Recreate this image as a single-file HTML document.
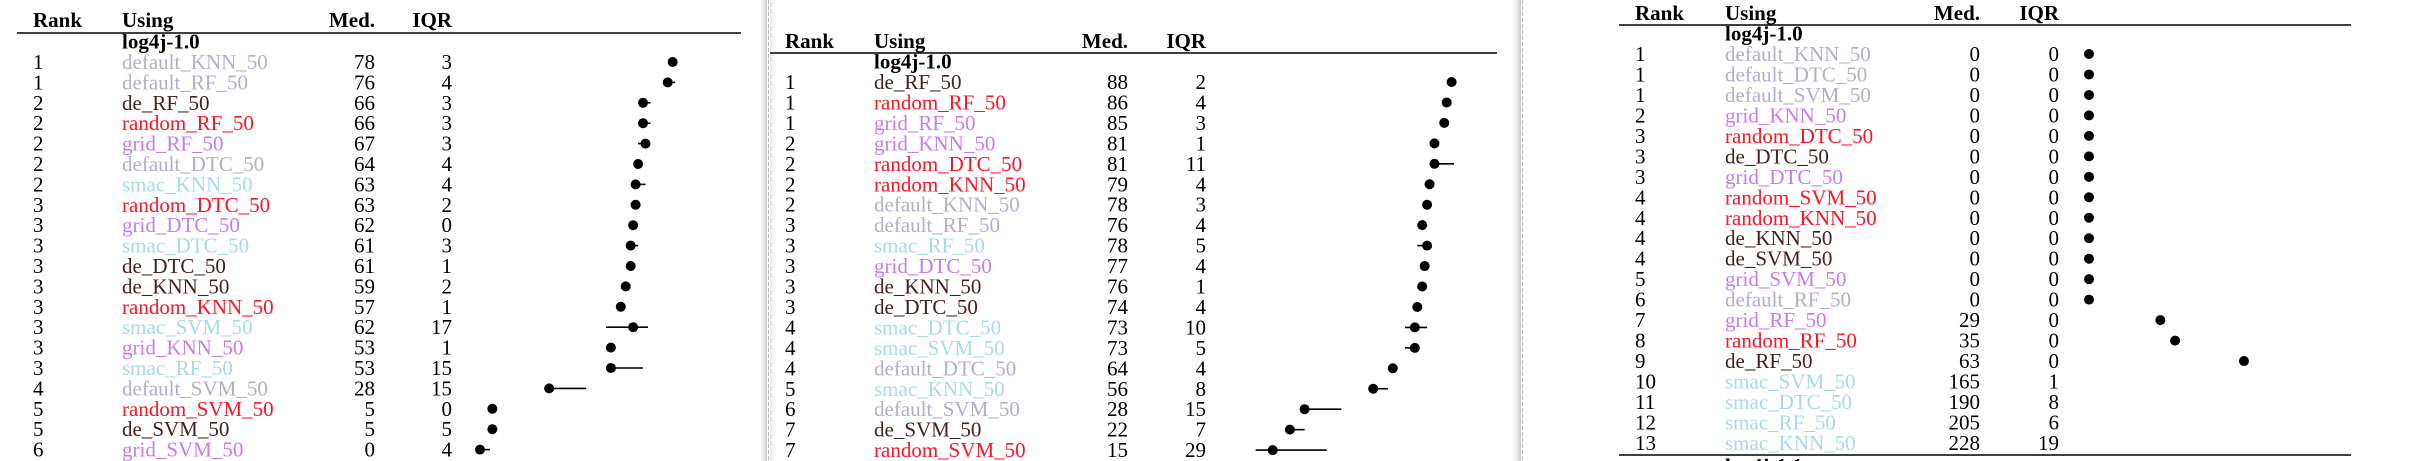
<!DOCTYPE html>
<html><head><meta charset="utf-8">
<style>
html,body{margin:0;padding:0;background:#fff;}
svg{display:block;}
text{font-family:"Liberation Serif",serif;font-size:21px;}
.b{font-weight:bold;}
</style></head>
<body>
<svg id="c" width="2417" height="461" viewBox="0 0 2417 461" xmlns="http://www.w3.org/2000/svg">
<defs>
<linearGradient id="sh" x1="0" x2="1" y1="0" y2="0">
<stop offset="0" stop-color="#fff" stop-opacity="0"/>
<stop offset="1" stop-color="#c8c8c8"/>
</linearGradient>
<linearGradient id="sh2" x1="0" x2="1" y1="0" y2="0">
<stop offset="0" stop-color="#e6e6e6"/>
<stop offset="1" stop-color="#fff" stop-opacity="0"/>
</linearGradient>
</defs>
<rect x="758" y="0" width="9" height="461" fill="url(#sh)"/>
<line x1="768.5" y1="0" x2="768.5" y2="461" stroke="#bbb" stroke-width="1" stroke-dasharray="4,2"/>
<rect x="770" y="0" width="8" height="461" fill="url(#sh2)"/>
<rect x="1510" y="0" width="11" height="461" fill="url(#sh)"/>
<line x1="1522.5" y1="0" x2="1522.5" y2="461" stroke="#bbb" stroke-width="1" stroke-dasharray="4,2"/>
</svg>
<script>
// Panel 1 data
const p1Names=["default_KNN_50","default_RF_50","de_RF_50","random_RF_50","grid_RF_50","default_DTC_50","smac_KNN_50","random_DTC_50","grid_DTC_50","smac_DTC_50","de_DTC_50","de_KNN_50","random_KNN_50","smac_SVM_50","grid_KNN_50","smac_RF_50","default_SVM_50","random_SVM_50","de_SVM_50","grid_SVM_50"];
const p1Rank=[1,1,2,2,2,2,2,3,3,3,3,3,3,3,3,3,4,5,5,6];
const p1Med=[78,76,66,66,67,64,63,63,62,61,61,59,57,62,53,53,28,5,5,0];
const p1Iqr=[3,4,3,3,3,4,4,2,0,3,1,2,1,17,1,15,15,0,5,4];
const p1Lo=[78,76,66,66,64,64,63,63,62,61,61,59,57,51,53,53,28,5,5,0];
const p1Hi=[78,79,69,69,67,66,67,63,62,64,61,59,57,68,53,66,43,5,7,4];
// Panel 2 data
const p2Names=["de_RF_50","random_RF_50","grid_RF_50","grid_KNN_50","random_DTC_50","random_KNN_50","default_KNN_50","default_RF_50","smac_RF_50","grid_DTC_50","de_KNN_50","de_DTC_50","smac_DTC_50","smac_SVM_50","default_DTC_50","smac_KNN_50","default_SVM_50","de_SVM_50","random_SVM_50"];
const p2Rank=[1,1,1,2,2,2,2,3,3,3,3,3,4,4,4,5,6,7,7];
const p2Med=[88,86,85,81,81,79,78,76,78,77,76,74,73,73,64,56,28,22,15];
const p2Iqr=[2,4,3,1,11,4,3,4,5,4,1,4,10,5,4,8,15,7,29];
const p2Lo=[88,86,85,81,79,79,78,76,74,76,76,74,69,69,64,56,28,22,8];
const p2Hi=[88,86,85,81,89,80,78,77,78,77,76,74,78,73,64,62,43,28,37];
// Panel 3 data
const p3Names=["default_KNN_50","default_DTC_50","default_SVM_50","grid_KNN_50","random_DTC_50","de_DTC_50","grid_DTC_50","random_SVM_50","random_KNN_50","de_KNN_50","de_SVM_50","grid_SVM_50","default_RF_50","grid_RF_50","random_RF_50","de_RF_50","smac_SVM_50","smac_DTC_50","smac_RF_50","smac_KNN_50"];
const p3Rank=[1,1,1,2,3,3,3,4,4,4,4,5,6,7,8,9,10,11,12,13];
const p3Med=[0,0,0,0,0,0,0,0,0,0,0,0,0,29,35,63,165,190,205,228];
const p3Iqr=[0,0,0,0,0,0,0,0,0,0,0,0,0,0,0,0,1,8,6,19];

const svg=document.getElementById('c');
const NS="http://www.w3.org/2000/svg";
function colorOf(n){
  if(n.startsWith("default"))return "#b4aec8";
  if(n.startsWith("de_"))return "#46201f";
  if(n.startsWith("random"))return "#ff1424";
  if(n.startsWith("grid"))return "#c47cf2";
  if(n.startsWith("smac"))return "#a6dbe5";
  return "#000";
}
function txt(x,y,s,opts){
  const t=document.createElementNS(NS,'text');
  t.setAttribute('x',x);t.setAttribute('y',y);
  if(opts.anchor)t.setAttribute('text-anchor',opts.anchor);
  if(opts.fill)t.setAttribute('fill',opts.fill);
  if(opts.bold)t.setAttribute('class','b');
  t.textContent=s;svg.appendChild(t);return t;
}
function line(x1,y1,x2,y2,w){
  const l=document.createElementNS(NS,'line');
  l.setAttribute('x1',x1);l.setAttribute('y1',y1);l.setAttribute('x2',x2);l.setAttribute('y2',y2);
  l.setAttribute('stroke','#000');l.setAttribute('stroke-width',w);
  svg.appendChild(l);return l;
}
function panel(P){
  const h=[["Rank",P.rankX,null],["Using",P.useX,null],["Med.",P.medX,"end"],["IQR",P.iqrX,"end"]];
  h.forEach(a=>{
    const t=txt(a[1],P.headY,a[0],{bold:true,anchor:a[2]||'start'});
    
    
  });
  const hl=line(P.lineX1,P.lineY,P.lineX2,P.lineY,1.5);
  
  
  const g=txt(P.useX,P.row0-P.dy+7,"log4j-1.0",{bold:true});
  
  
  const xs=v=>P.x0+v*P.k;
  P.names.forEach((n,i)=>{
    const y=P.row0+i*P.dy, by=y+7;
    let t=txt(P.rankX,by,String(P.rank[i]),{});
    
    
    t=txt(P.useX,by,n,{fill:colorOf(n)});
    
    
    t=txt(P.medX,by,String(P.med[i]),{anchor:'end'});
    
    
    t=txt(P.iqrX,by,String(P.iqr[i]),{anchor:'end'});
    
    
    if(P.med[i]<=100){
      if(P.lo && P.hi[i]>P.lo[i]){
        const w=line(xs(P.lo[i]),y,xs(P.hi[i]),y,1.6);
        
        
      }
      const c=document.createElementNS(NS,'circle');
      c.setAttribute('cx',xs(P.med[i]));c.setAttribute('cy',y);c.setAttribute('r',5);c.setAttribute('fill','#000');
      
      
      svg.appendChild(c);
    }
  });
}
panel({names:p1Names,rank:p1Rank,med:p1Med,iqr:p1Iqr,lo:p1Lo,hi:p1Hi,rankX:33,useX:122,medX:375,iqrX:452,headY:27,lineY:33,lineX1:17,lineX2:741,row0:62,dy:20.4,x0:480,k:2.47});
panel({names:p2Names,rank:p2Rank,med:p2Med,iqr:p2Iqr,lo:p2Lo,hi:p2Hi,rankX:785,useX:874,medX:1128,iqrX:1206,headY:48,lineY:53,lineX1:770,lineX2:1497,row0:82,dy:20.45,x0:1236,k:2.45});
panel({names:p3Names,rank:p3Rank,med:p3Med,iqr:p3Iqr,lo:null,hi:null,rankX:1635,useX:1725,medX:1980,iqrX:2059,headY:20,lineY:25,lineX1:1619,lineX2:2351,row0:54,dy:20.47,x0:2089,k:2.46});
const bl=line(1619,455,2351,455,1.5);


const nt=txt(1725,473,"log4j-1.1",{bold:true});


</script>
</body></html>
